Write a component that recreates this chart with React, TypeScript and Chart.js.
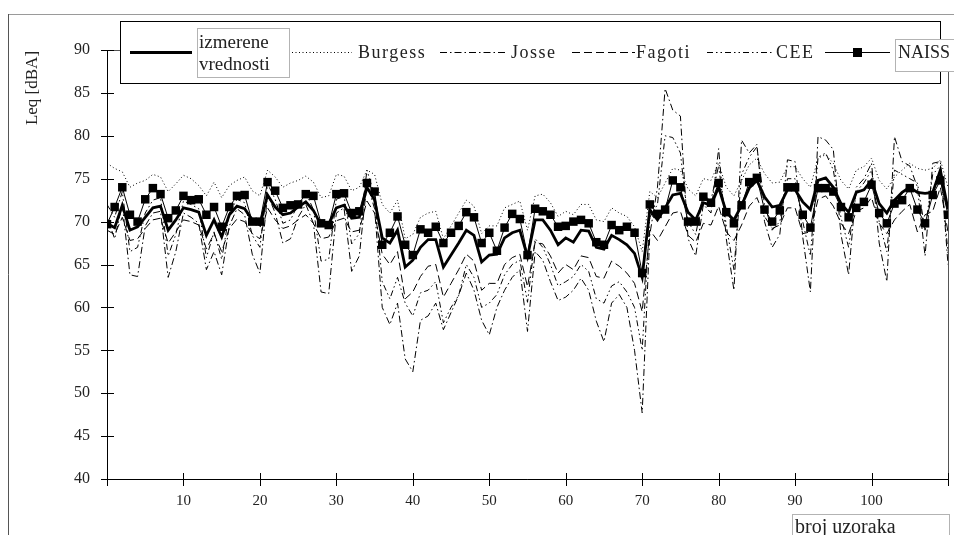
import React, { useEffect, useRef } from "react";
import { Chart, registerables } from "chart.js";

Chart.register(...registerables);

const seriesNames = ["izmerene vrednosti", "Burgess", "Josse", "Fagoti", "CEE", "NAISS"];
const yTicks = [40, 45, 50, 55, 60, 65, 70, 75, 80, 85, 90];
const xTickLabels = [10, 20, 30, 40, 50, 60, 70, 80, 90, 100];
const xAxisTitle = "broj uzoraka";
const yAxisTitle = "Leq [dBA]";

const izmerene = [
  69.8, 69.3, 71.9, 69.0, 69.4, 70.5, 71.6, 71.8, 69.0, 70.2,
  71.6, 71.4, 71.1, 68.4, 70.2, 68.2, 70.8, 71.8, 71.5, 70.2,
  69.6, 73.1, 71.7, 70.8, 71.0, 71.7, 72.3, 71.3, 69.6, 69.7,
  71.6, 71.9, 70.4, 70.5, 74.0, 72.5, 68.1, 67.5, 69.0, 64.7,
  65.5, 67.0, 67.9, 67.9, 64.7, 66.1, 67.5, 69.0, 68.4, 65.3,
  66.1, 66.2, 68.1, 68.7, 69.0, 65.9, 70.2, 70.2, 69.0, 67.3,
  68.1, 67.6, 69.0, 68.9, 67.0, 66.8, 68.4, 67.9, 67.3, 66.3,
  63.5, 71.4, 70.2, 71.6, 73.1, 73.3, 71.1, 70.2, 72.2, 71.9,
  74.0, 71.1, 70.2, 71.9, 73.9, 74.8, 72.9, 71.7, 71.9, 73.7,
  73.7, 72.3, 71.4, 74.8, 75.1, 74.0, 72.1, 71.1, 73.4, 73.7,
  74.8, 72.1, 71.0, 72.5, 73.4, 74.0, 73.4, 73.3, 73.4, 76.0,
  71.4,
];

const burgess = [
  76.8, 76.2, 75.8, 74.0, 74.5, 74.8, 75.5, 75.2, 73.5, 74.4,
  75.4, 75.0, 74.2, 73.0, 74.6, 72.8, 74.2, 74.8, 75.2, 73.6,
  73.0, 76.0, 75.2, 74.0, 74.5, 74.8, 75.3, 74.6, 72.8, 73.0,
  75.5, 75.3, 73.6, 74.0, 76.0, 75.5, 72.0, 71.0, 72.5, 68.0,
  68.5, 70.5, 71.0, 71.2, 68.0, 69.5, 71.0, 72.5, 71.8, 68.6,
  69.5, 69.5, 71.6, 72.0, 72.4, 69.0, 73.0, 73.2, 72.2, 70.6,
  71.2, 70.8, 72.0, 72.0, 70.2, 70.0, 71.6, 71.0, 70.6, 69.4,
  66.5, 73.5, 72.8, 74.5, 76.2, 76.0, 73.8, 73.0, 75.0, 74.8,
  76.8, 74.0, 73.0, 74.8, 76.6, 77.4, 75.6, 74.5, 74.6, 76.4,
  76.4, 75.0, 74.0, 77.4, 77.8, 76.8, 74.8, 73.8, 76.0, 76.4,
  77.4, 74.8, 73.8, 75.2, 76.0, 76.8, 76.2, 76.0, 76.2, 77.2,
  74.0,
];

const josse = [
  70.5, 68.0, 72.0, 63.8, 63.6, 69.5, 71.0, 71.2, 63.5, 66.5,
  71.0, 70.5, 69.8, 64.4, 66.5, 63.8, 69.5, 71.5, 70.8, 66.2,
  64.0, 73.2, 71.0, 67.5, 68.0, 70.5, 72.0, 69.8, 61.8, 61.6,
  71.0, 71.6, 64.2, 66.0, 74.5, 71.5, 60.0, 58.0, 60.5, 54.0,
  52.5, 58.5, 59.0, 60.5, 57.4, 59.4, 61.4, 64.0, 62.0, 58.5,
  56.8, 60.0, 62.0, 63.5, 64.4, 57.2, 66.5, 65.5, 63.0, 60.8,
  61.2, 62.0, 63.4, 62.0, 58.4, 56.0, 60.5, 61.5, 60.0, 55.0,
  47.7, 68.5, 74.0, 85.5, 83.0, 82.3, 68.0, 66.0, 72.0, 71.0,
  78.5, 68.0, 62.0, 79.5, 78.0, 79.0, 70.0, 67.0, 68.5, 77.2,
  77.0, 68.2, 61.8, 79.9, 79.5, 78.4, 68.5, 63.8, 74.0, 75.0,
  76.8, 67.5, 63.0, 79.9, 77.0, 76.5, 74.0, 66.0, 76.8, 77.0,
  65.0,
];

const fagoti = [
  69.0, 68.5, 70.5, 67.8, 68.0, 69.2, 70.2, 70.4, 67.5, 68.8,
  70.2, 70.0, 69.6, 66.8, 68.6, 66.5, 69.2, 70.3, 70.0, 68.6,
  68.0, 71.6, 70.2, 69.2, 69.5, 70.2, 70.8, 69.8, 68.0, 68.2,
  70.1, 70.4, 68.8, 69.0, 72.4, 71.0, 66.2, 65.0, 66.5, 61.0,
  61.8, 63.6, 64.8, 65.0, 61.2, 62.8, 64.4, 66.2, 65.4, 62.0,
  62.8, 62.8, 65.0, 65.8, 66.2, 62.4, 67.6, 67.4, 66.0, 64.0,
  65.0, 64.4, 66.0, 65.8, 63.6, 63.4, 65.4, 64.8, 64.0, 62.8,
  59.5, 69.0, 67.8, 69.4, 71.0, 71.2, 68.4, 67.6, 69.8, 69.6,
  71.8, 68.8, 67.8, 69.6, 71.8, 72.8, 70.6, 69.2, 69.6, 71.6,
  71.6, 68.6, 68.8, 72.6, 73.0, 71.8, 69.8, 68.6, 71.2, 71.6,
  72.8, 69.8, 68.6, 70.2, 71.2, 72.0, 68.8, 70.8, 71.2, 74.0,
  68.8,
];

const cee = [
  72.0, 70.5, 73.5, 66.5, 67.0, 71.0, 72.5, 72.8, 66.0, 68.5,
  72.4, 72.0, 71.5, 65.8, 68.8, 65.6, 71.0, 72.6, 72.2, 68.4,
  67.0, 74.4, 72.6, 69.8, 70.2, 72.0, 73.4, 71.4, 65.4, 65.6,
  72.6, 73.0, 67.4, 68.6, 76.0, 73.0, 63.0, 61.0, 63.5, 60.5,
  59.0, 61.7, 62.0, 63.0, 58.2, 60.0, 61.4, 65.0, 63.5, 60.0,
  60.5, 61.5, 63.8, 65.0, 65.5, 60.6, 68.0, 67.0, 65.0, 62.5,
  63.0, 63.6, 65.0, 64.2, 61.0, 60.5, 62.5, 63.0, 61.8, 60.0,
  55.0, 70.5, 72.0, 80.0, 79.8, 78.0, 70.0, 68.5, 73.0, 72.5,
  76.5, 69.5, 64.4, 75.5, 77.5, 78.7, 72.0, 69.0, 70.0, 75.0,
  75.0, 70.0, 66.0, 77.5, 78.0, 76.0, 70.5, 67.0, 73.5, 74.5,
  76.0, 70.0, 66.5, 76.0, 75.5, 75.0, 74.5, 69.0, 75.5, 76.5,
  66.3,
];

const naiss = [
  69.7, 71.7, 74.0, 70.8, 70.0, 72.6, 73.9, 73.2, 70.4, 71.3,
  73.0, 72.5, 72.6, 70.8, 71.7, 69.4, 71.7, 73.0, 73.1, 70.0,
  70.0, 74.6, 73.6, 71.6, 71.9, 72.0, 73.2, 73.0, 69.8, 69.6,
  73.2, 73.3, 71.0, 71.2, 74.5, 73.5, 67.3, 68.7, 70.6, 67.3,
  66.1, 69.1, 68.7, 69.4, 67.5, 68.7, 69.5, 71.1, 70.5, 67.5,
  68.7, 66.6, 69.3, 70.9, 70.3, 66.1, 71.5, 71.2, 70.8, 69.4,
  69.5, 70.0, 70.2, 69.8, 67.6, 67.3, 69.6, 69.0, 69.4, 68.7,
  64.0, 72.0, 70.9, 71.4, 74.8, 74.0, 70.0, 70.0, 72.9, 72.2,
  74.5, 71.1, 69.8, 71.9, 74.6, 75.1, 71.4, 70.0, 71.3, 74.0,
  74.0, 70.8, 69.3, 73.9, 73.9, 73.5, 71.7, 70.5, 71.6, 72.3,
  74.3, 71.0, 69.8, 72.1, 72.5, 73.9, 71.4, 69.8, 73.1, 74.8,
  70.8,
];

const toPoints = (vals: number[]) => vals.map((y, i) => ({ x: i, y }));

const SERIF = '"Liberation Serif", "Times New Roman", serif';

const decorPlugin = {
  id: "decor",
  beforeDraw(chart: any) {
    const ctx = chart.ctx;
    ctx.save();
    ctx.fillStyle = "#fff";
    ctx.fillRect(0, 0, chart.width, chart.height);
    ctx.strokeStyle = "#9a9a9a";
    ctx.lineWidth = 1;
    ctx.beginPath();
    ctx.moveTo(8, 14.5);
    ctx.lineTo(chart.width, 14.5);
    ctx.stroke();
    ctx.strokeStyle = "#555";
    ctx.beginPath();
    ctx.moveTo(8.5, 14);
    ctx.lineTo(8.5, chart.height);
    ctx.stroke();
    // y axis title
    ctx.fillStyle = "#222";
    ctx.font = `17px ${SERIF}`;
    ctx.translate(33, 88);
    ctx.rotate(-Math.PI / 2);
    ctx.textAlign = "center";
    ctx.textBaseline = "middle";
    ctx.fillText(yAxisTitle, 0, 0);
    ctx.restore();
  },
  beforeDatasetsDraw(chart: any) {
    const ctx = chart.ctx;
    const { left, right, top, bottom } = chart.chartArea;
    const xs = chart.scales.x;
    const ys = chart.scales.y;
    ctx.save();
    ctx.strokeStyle = "#555";
    ctx.lineWidth = 1;
    ctx.strokeRect(Math.round(left) + 0.5, Math.round(top) + 0.5, Math.round(right - left), Math.round(bottom - top));
    ctx.strokeStyle = "#000";
    ctx.beginPath();
    ctx.moveTo(Math.round(left) + 0.5, top);
    ctx.lineTo(Math.round(left) + 0.5, bottom);
    ctx.moveTo(left, Math.round(bottom) + 0.5);
    ctx.lineTo(right, Math.round(bottom) + 0.5);
    yTicks.forEach((v) => {
      const y = Math.round(ys.getPixelForValue(v)) + 0.5;
      ctx.moveTo(left - 6, y);
      ctx.lineTo(left + 7, y);
    });
    for (let v = 0; v <= 110; v += 10) {
      const x = Math.round(xs.getPixelForValue(v)) + 0.5;
      ctx.moveTo(x, bottom - 6);
      ctx.lineTo(x, bottom + 7);
    }
    ctx.stroke();
    ctx.restore();
  },
  afterDraw(chart: any) {
    const ctx = chart.ctx;
    ctx.save();
    // legend box
    ctx.fillStyle = "#fff";
    ctx.fillRect(120, 21, 820, 62);
    ctx.strokeStyle = "#000";
    ctx.lineWidth = 1;
    ctx.strokeRect(120.5, 21.5, 820, 62);

    const sample = (x1: number, x2: number, y: number, dash: number[], width: number) => {
      ctx.save();
      ctx.strokeStyle = "#000";
      ctx.lineWidth = width;
      ctx.setLineDash(dash);
      ctx.beginPath();
      ctx.moveTo(x1, y);
      ctx.lineTo(x2, y);
      ctx.stroke();
      ctx.restore();
    };
    const ly = 52.5;
    sample(130, 192, ly, [], 3);
    sample(292, 352, ly, [1, 2.5], 1);
    sample(440, 505, ly, [7, 3, 1.5, 3], 1);
    sample(572, 635, ly, [8, 4], 1);
    sample(707, 772, ly, [6, 3, 1.5, 3, 1.5, 3], 1);
    sample(825, 890, ly, [], 1);
    ctx.fillStyle = "#000";
    ctx.fillRect(853, ly - 4.5, 9, 9);

    ctx.fillStyle = "#222";
    ctx.font = `18px ${SERIF}`;
    ctx.textBaseline = "alphabetic";
    ctx.textAlign = "left";
    (ctx as any).letterSpacing = "1.5px";
    ctx.fillText(seriesNames[1], 358, 58);
    ctx.fillText(seriesNames[2], 511, 58);
    ctx.fillText(seriesNames[3], 636, 58);
    ctx.fillText(seriesNames[4], 776, 58);
    (ctx as any).letterSpacing = "0px";

    // izmerene vrednosti text box
    ctx.save();
    ctx.strokeStyle = "#666";
    ctx.setLineDash([1, 1]);
    ctx.strokeRect(197.5, 28.5, 92, 49);
    ctx.restore();
    ctx.font = `19px ${SERIF}`;
    const parts = seriesNames[0].split(" ");
    ctx.fillText(parts[0], 199, 48);
    ctx.fillText(parts[1], 199, 70);

    // NAISS box
    ctx.fillStyle = "#fff";
    ctx.fillRect(895, 39, 60, 33);
    ctx.save();
    ctx.strokeStyle = "#666";
    ctx.setLineDash([1, 1]);
    ctx.strokeRect(895.5, 39.5, 62, 32);
    ctx.restore();
    ctx.fillStyle = "#222";
    ctx.font = `18px ${SERIF}`;
    ctx.fillText(seriesNames[5], 898, 58);

    // x axis title box
    ctx.fillStyle = "#fff";
    ctx.fillRect(792, 514, 158, 22);
    ctx.save();
    ctx.strokeStyle = "#666";
    ctx.setLineDash([1, 1]);
    ctx.strokeRect(792.5, 514.5, 157, 24);
    ctx.restore();
    ctx.fillStyle = "#222";
    ctx.font = `20px ${SERIF}`;
    ctx.fillText(xAxisTitle, 795, 533);
    ctx.restore();
  },
};

export default function App() {
  const ref = useRef<HTMLCanvasElement | null>(null);
  useEffect(() => {
    if (!ref.current) return;
    const mk = (label: string, vals: number[], dash: number[], width: number, order: number, extra: any = {}) => ({
      label,
      data: toPoints(vals),
      borderColor: "#000",
      backgroundColor: "#000",
      borderWidth: width,
      borderDash: dash,
      pointRadius: 0,
      tension: 0,
      order,
      ...extra,
    });
    const chart = new Chart(ref.current, {
      type: "line",
      data: {
        datasets: [
          mk(seriesNames[5], naiss, [], 1, 0, { pointRadius: 6, pointStyle: "rect", pointBorderWidth: 0 }),
          mk(seriesNames[0], izmerene, [], 2.8, 1),
          mk(seriesNames[1], burgess, [1, 2.5], 1, 2),
          mk(seriesNames[2], josse, [7, 3, 1.5, 3], 1, 3),
          mk(seriesNames[3], fagoti, [8, 4], 1, 4),
          mk(seriesNames[4], cee, [6, 3, 1.5, 3, 1.5, 3], 1, 5),
        ],
      },
      options: {
        responsive: false,
        animation: false,
        layout: { padding: { left: 0, right: 4, top: 50, bottom: 0 } },
        plugins: { legend: { display: false }, tooltip: { enabled: false } },
        scales: {
          x: {
            type: "linear",
            min: 0,
            max: 110,
            grid: { display: false, drawTicks: false },
            border: { display: false },
            afterFit: (s: any) => { s.height = 56; s.paddingLeft = 0; s.paddingRight = 0; },
            ticks: {
              stepSize: 10,
              padding: 13,
              color: "#222",
              font: { family: SERIF, size: 15 },
              maxRotation: 0,
              autoSkip: false,
              callback: (v: any) => (xTickLabels.includes(Number(v)) ? String(v) : ""),
            },
          },
          y: {
            min: 40,
            max: 90,
            grid: { display: false, drawTicks: false },
            border: { display: false },
            afterFit: (s: any) => { s.width = 107; s.paddingTop = 0; s.paddingBottom = 0; },
            ticks: {
              stepSize: 5,
              padding: 17,
              color: "#222",
              font: { family: SERIF, size: 16 },
            },
          },
        },
      },
      plugins: [decorPlugin],
    });
    return () => chart.destroy();
  }, []);
  return (
    <div style={{ position: "absolute", left: 0, top: 0, width: 954, height: 535 }}>
      <canvas ref={ref} width={954} height={535} style={{ display: "block", width: 954, height: 535 }} />
    </div>
  );
}
